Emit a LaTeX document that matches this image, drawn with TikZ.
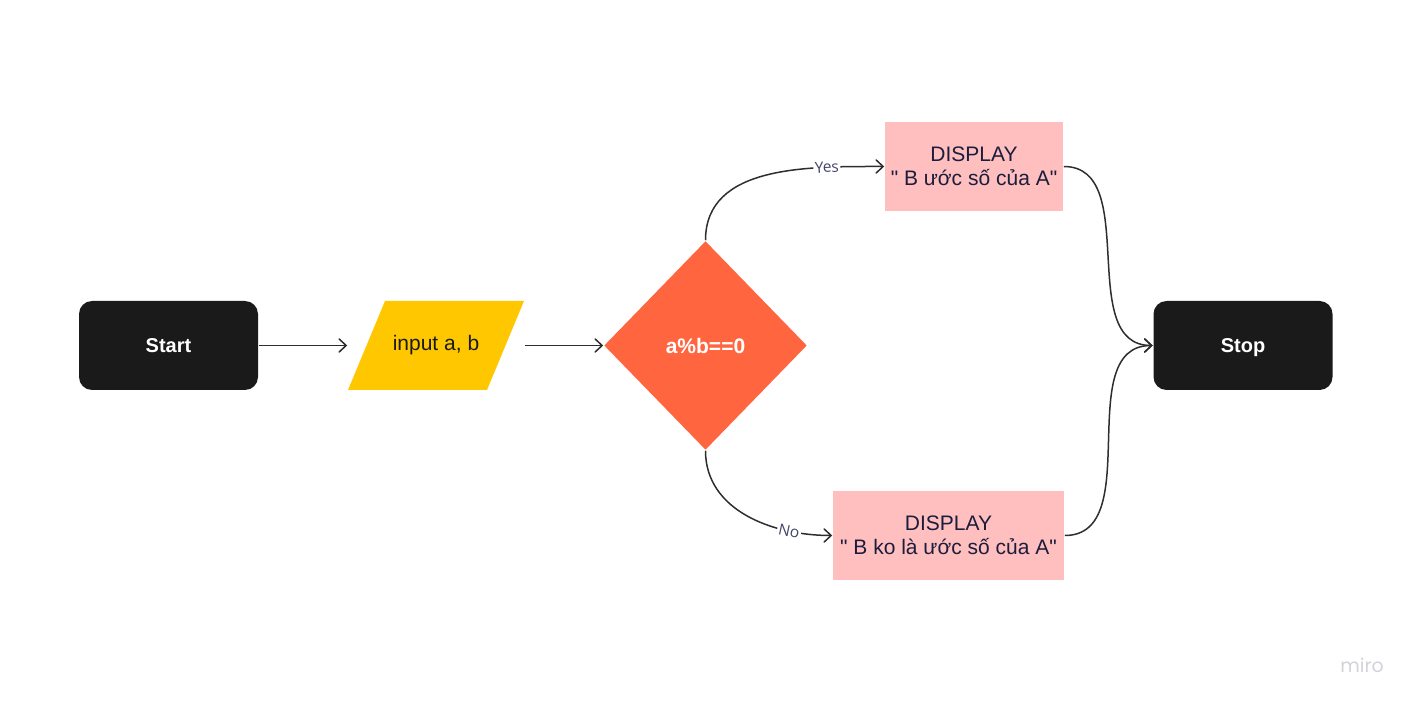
\documentclass[tikz,border=0pt]{standalone}
\usepackage{fontspec}
\setmainfont{Liberation Sans}
\newfontfamily\lblfont{Open Sans}
\newfontfamily\logofont{Poppins}
\usetikzlibrary{
  arrows.meta,
  shapes.geometric,
  chains,
  scopes
}
\definecolor{termblack}{HTML}{1A1A1A}
\definecolor{ioyellow}{HTML}{FFC700}
\definecolor{decorange}{HTML}{FF6640}
\definecolor{disppink}{HTML}{FFBFBF}
\definecolor{navytext}{HTML}{1C1C3C}
\definecolor{lblnavy}{HTML}{45456A}
\definecolor{linegray}{HTML}{2E2E2E}
\definecolor{logogray}{HTML}{D2D2DA}

\begin{document}
\begin{tikzpicture}[
      x=1pt,y=1pt,
      terminal/.style={
         rectangle,
         rounded corners=13pt,
         minimum width=179pt,
         minimum height=89pt,
         fill=termblack,
         text=white,
         text height=14.3pt,
         text depth=0pt,
         font=\fontsize{20}{24}\selectfont\bfseries
      },
      io/.style={
         rectangle,
         minimum width=176pt,
         minimum height=89pt,
         inner sep=0pt,
         text=termblack,
         font=\fontsize{21}{24}\selectfont,
         path picture={
            \fill[ioyellow] (path picture bounding box.south west)
               -- ++(139pt,0) -- (path picture bounding box.north east)
               -- ++(-139pt,0) -- cycle;
         }
      },
      decision/.style={
         diamond,
         minimum width=203pt,
         minimum height=209pt,
         inner sep=0pt,
         fill=decorange,
         text=white,
         font=\fontsize{21}{24}\selectfont\bfseries
      },
      display/.style={
         rectangle,
         minimum height=89pt,
         inner sep=0pt,
         fill=disppink,
         text=navytext,
         align=center,
         font=\fontsize{21}{24}\selectfont
      },
      lbl/.style={
         fill=white,
         inner sep=1.5pt,
         text=lblnavy,
         font=\lblfont\fontsize{15.5}{17}\selectfont
      },
      >={Straight Barb[length=7pt,width=13pt,line cap=round]},
      line width=1.5pt,draw=linegray,
      tip/.style={->},
      every join/.style={draw=linegray},
      curve up/.style={out=90,in=180},
      curve down/.style={out=-90,in=180},
      curve in/.style={out=0,in=180}
    ]
    \useasboundingbox (0,0) rectangle (1416,705);
    \node (n1) [terminal] at (168.5,359.5) {Start};
    \node (n2) [io] at (436,359.5) {input a, b};
    \node (n3) [decision] at (705.5,359.5) {a\%b==0};
    \node (n4) [display, minimum width=178pt] at (974,538.5) {DISPLAY\\\textquotedbl{} B ước số của A\textquotedbl};
    \node (n5) [display, minimum width=231pt] at (948.5,169.5) {DISPLAY\\\textquotedbl{} B ko là ước số của A\textquotedbl};
    \node (n6) [terminal] at (1243,359.5) {Stop};
    \node (n7) [text=logogray, font=\logofont\fontsize{19}{21}\selectfont] at (1362,40) {miro};
  { [start chain]
       \chainin (n1);
       \chainin (n2)    [join=by tip];
  }
  { [start chain]
       \chainin (n2);
       \chainin (n3)    [join=by tip];
  }
  { [start chain]
       \chainin (n3);
       \chainin (n4)    [join=by {curve up,tip,edge node={node[lbl,pos=.76,sloped] {Yes}}}];
  }
  { [start chain]
       \chainin (n3);
       \chainin (n5)    [join=by {curve down,tip,edge node={node[lbl,pos=.76,sloped] {No}}}];
  }
  { [start chain]
       \chainin (n4);
       \chainin (n6)    [join=by {curve in,tip}];
  }
  { [start chain]
       \chainin (n5);
       \chainin (n6)    [join=by {curve in,tip}];
  }
\end{tikzpicture}
\end{document}
